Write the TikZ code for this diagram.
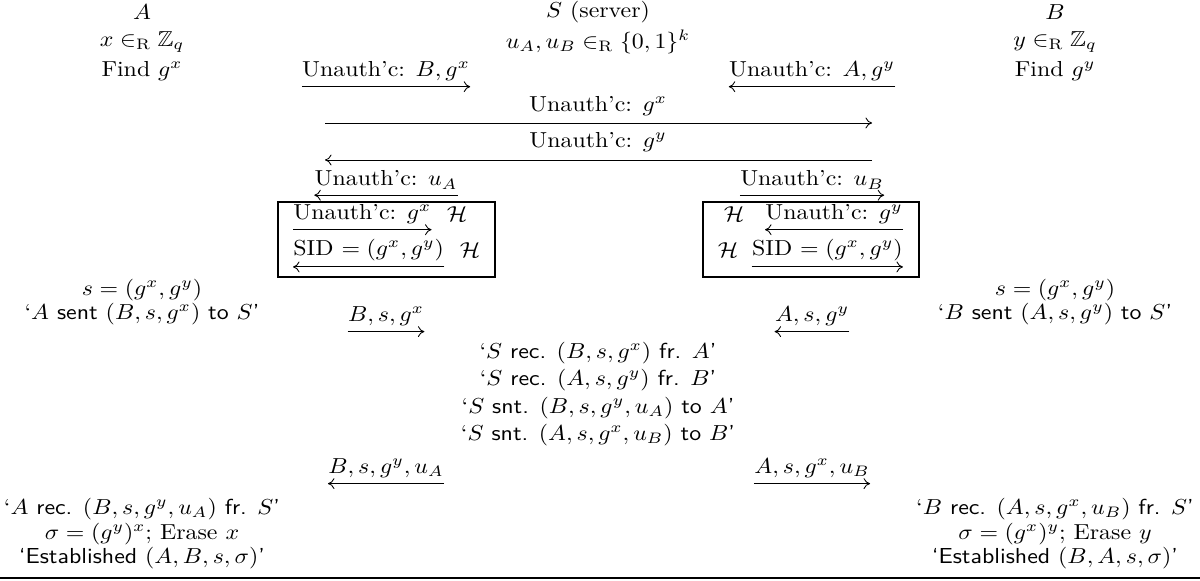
\documentclass[tikz,border=0pt]{standalone}
\usepackage{amsmath,amssymb}
\usepackage{graphicx}
\usetikzlibrary{arrows.meta}
\newcommand{\T}[1]{\scalebox{1.1}[1]{#1}}
\tikzset{
  lbl/.style={inner sep=0pt, anchor=center},
  msg/.style={-{Computer Modern Rightarrow[length=3pt,width=5pt]}, line width=0.4pt},
  hbox/.style={draw, line width=0.9pt},
  rule/.style={line width=1.3pt}
}
\newcommand{\rarr}[1]{\draw[msg] ([yshift=-2.6pt]#1.south west) -- ([yshift=-2.6pt]#1.south east);}
\newcommand{\larr}[1]{\draw[msg] ([yshift=-2.6pt]#1.south east) -- ([yshift=-2.6pt]#1.south west);}
\begin{document}
\begin{tikzpicture}[x=0.4608pt,y=-0.4608pt]
\useasboundingbox (0,0) rectangle (1200,581);
% header
\node[lbl] (pA) at (142,12) {\T{$A$}};
\node[lbl] (pS) at (598,12) {\T{$S$ (server)}};
\node[lbl] (pB) at (1055,12) {\T{$B$}};
\node[lbl] (xA) at (142,42) {\T{$x\in_{\mathrm{R}}\mathbb{Z}_q$}};
\node[lbl] (uS) at (598,42) {\T{$u_A,u_B\in_{\mathrm{R}}\{0,1\}^k$}};
\node[lbl] (yB) at (1055,42) {\T{$y\in_{\mathrm{R}}\mathbb{Z}_q$}};
\node[lbl] (fA) at (142,71) {\T{Find $g^x$}};
\node[lbl] (fB) at (1055,71) {\T{Find $g^y$}};
% unauthenticated messages
\node[lbl] (m1) at (386,71) {\T{Unauth'c: $B,g^x$}};
\rarr{m1}
\node[lbl] (m2) at (812,71) {\T{Unauth'c: $A,g^y$}};
\larr{m2}
\node[lbl] (m3) at (598,106) {\T{Unauth'c: $g^x$}};
\coordinate (m3s) at (325,123); \coordinate (m3e) at (872,123);
\draw[msg] (m3s) -- (m3e);
\node[lbl] (m4) at (598,142) {\T{Unauth'c: $g^y$}};
\coordinate (m4s) at (872,160); \coordinate (m4e) at (325,160);
\draw[msg] (m4s) -- (m4e);
\node[lbl] (m5) at (386,180) {\T{Unauth'c: $u_A$}};
\larr{m5}
\node[lbl] (m6) at (812,180) {\T{Unauth'c: $u_B$}};
\rarr{m6}
% left box
\coordinate (bL1) at (278,202); \coordinate (bL2) at (495,277);
\draw[hbox] (bL1) rectangle (bL2);
\node[lbl, anchor=west] (lb1) at (293,214) {\T{Unauth'c: $g^x$}};
\node[lbl] (lh1) at (457,214) {\T{$\mathcal{H}$}};
\rarr{lb1}
\node[lbl, anchor=west] (lb2) at (293,250) {\T{SID $=(g^x,g^y)$}};
\node[lbl] (lh2) at (470,250) {\T{$\mathcal{H}$}};
\larr{lb2}
% right box
\coordinate (bR1) at (703,202); \coordinate (bR2) at (919,277);
\draw[hbox] (bR1) rectangle (bR2);
\node[lbl] (rh1) at (734,214) {\T{$\mathcal{H}$}};
\node[lbl, anchor=east] (rb1) at (903,214) {\T{Unauth'c: $g^y$}};
\larr{rb1}
\node[lbl] (rh2) at (728,250) {\T{$\mathcal{H}$}};
\node[lbl, anchor=east] (rb2) at (903,250) {\T{SID $=(g^x,g^y)$}};
\rarr{rb2}
% session id and sent
\node[lbl] (sA) at (142,290) {\T{$s=(g^x,g^y)$}};
\node[lbl] (snA) at (142,314) {\T{`$A$ \textsf{sent} $(B,s,g^x)$ \textsf{to} $S$\textsf{'}}};
\node[lbl] (sB) at (1055,290) {\T{$s=(g^x,g^y)$}};
\node[lbl] (snB) at (1055,314) {\T{`$B$ \textsf{sent} $(A,s,g^y)$ \textsf{to} $S$\textsf{'}}};
\node[lbl] (m7) at (386,316) {\T{$B,s,g^x$}};
\rarr{m7}
\node[lbl] (m8) at (812,316) {\T{$A,s,g^y$}};
\larr{m8}
% server
\node[lbl] (sv1) at (598,353) {\T{`$S$ \textsf{rec.} $(B,s,g^x)$ \textsf{fr.} $A$\textsf{'}}};
\node[lbl] (sv2) at (598,380) {\T{`$S$ \textsf{rec.} $(A,s,g^y)$ \textsf{fr.} $B$\textsf{'}}};
\node[lbl] (sv3) at (598,408) {\T{`$S$ \textsf{snt.} $(B,s,g^y,u_A)$ \textsf{to} $A$\textsf{'}}};
\node[lbl] (sv4) at (598,435) {\T{`$S$ \textsf{snt.} $(A,s,g^x,u_B)$ \textsf{to} $B$\textsf{'}}};
% final messages
\node[lbl] (m9) at (386,468) {\T{$B,s,g^y,u_A$}};
\larr{m9}
\node[lbl] (m10) at (812,468) {\T{$A,s,g^x,u_B$}};
\rarr{m10}
% final
\node[lbl] (rA) at (142,509) {\T{`$A$ \textsf{rec.} $(B,s,g^y,u_A)$ \textsf{fr.} $S$\textsf{'}}};
\node[lbl] (kA) at (142,534) {\T{$\sigma=(g^y)^x$; Erase $x$}};
\node[lbl] (eA) at (142,558) {\T{\textsf{`Established} $(A,B,s,\sigma)$\textsf{'}}};
\node[lbl] (rB) at (1055,509) {\T{`$B$ \textsf{rec.} $(A,s,g^x,u_B)$ \textsf{fr.} $S$\textsf{'}}};
\node[lbl] (kB) at (1055,534) {\T{$\sigma=(g^x)^y$; Erase $y$}};
\node[lbl] (eB) at (1055,558) {\T{\textsf{`Established} $(B,A,s,\sigma)$\textsf{'}}};
\coordinate (r1) at (0,578); \coordinate (r2) at (1200,578);
\draw[rule] (r1) -- (r2);
\end{tikzpicture}
\end{document}
